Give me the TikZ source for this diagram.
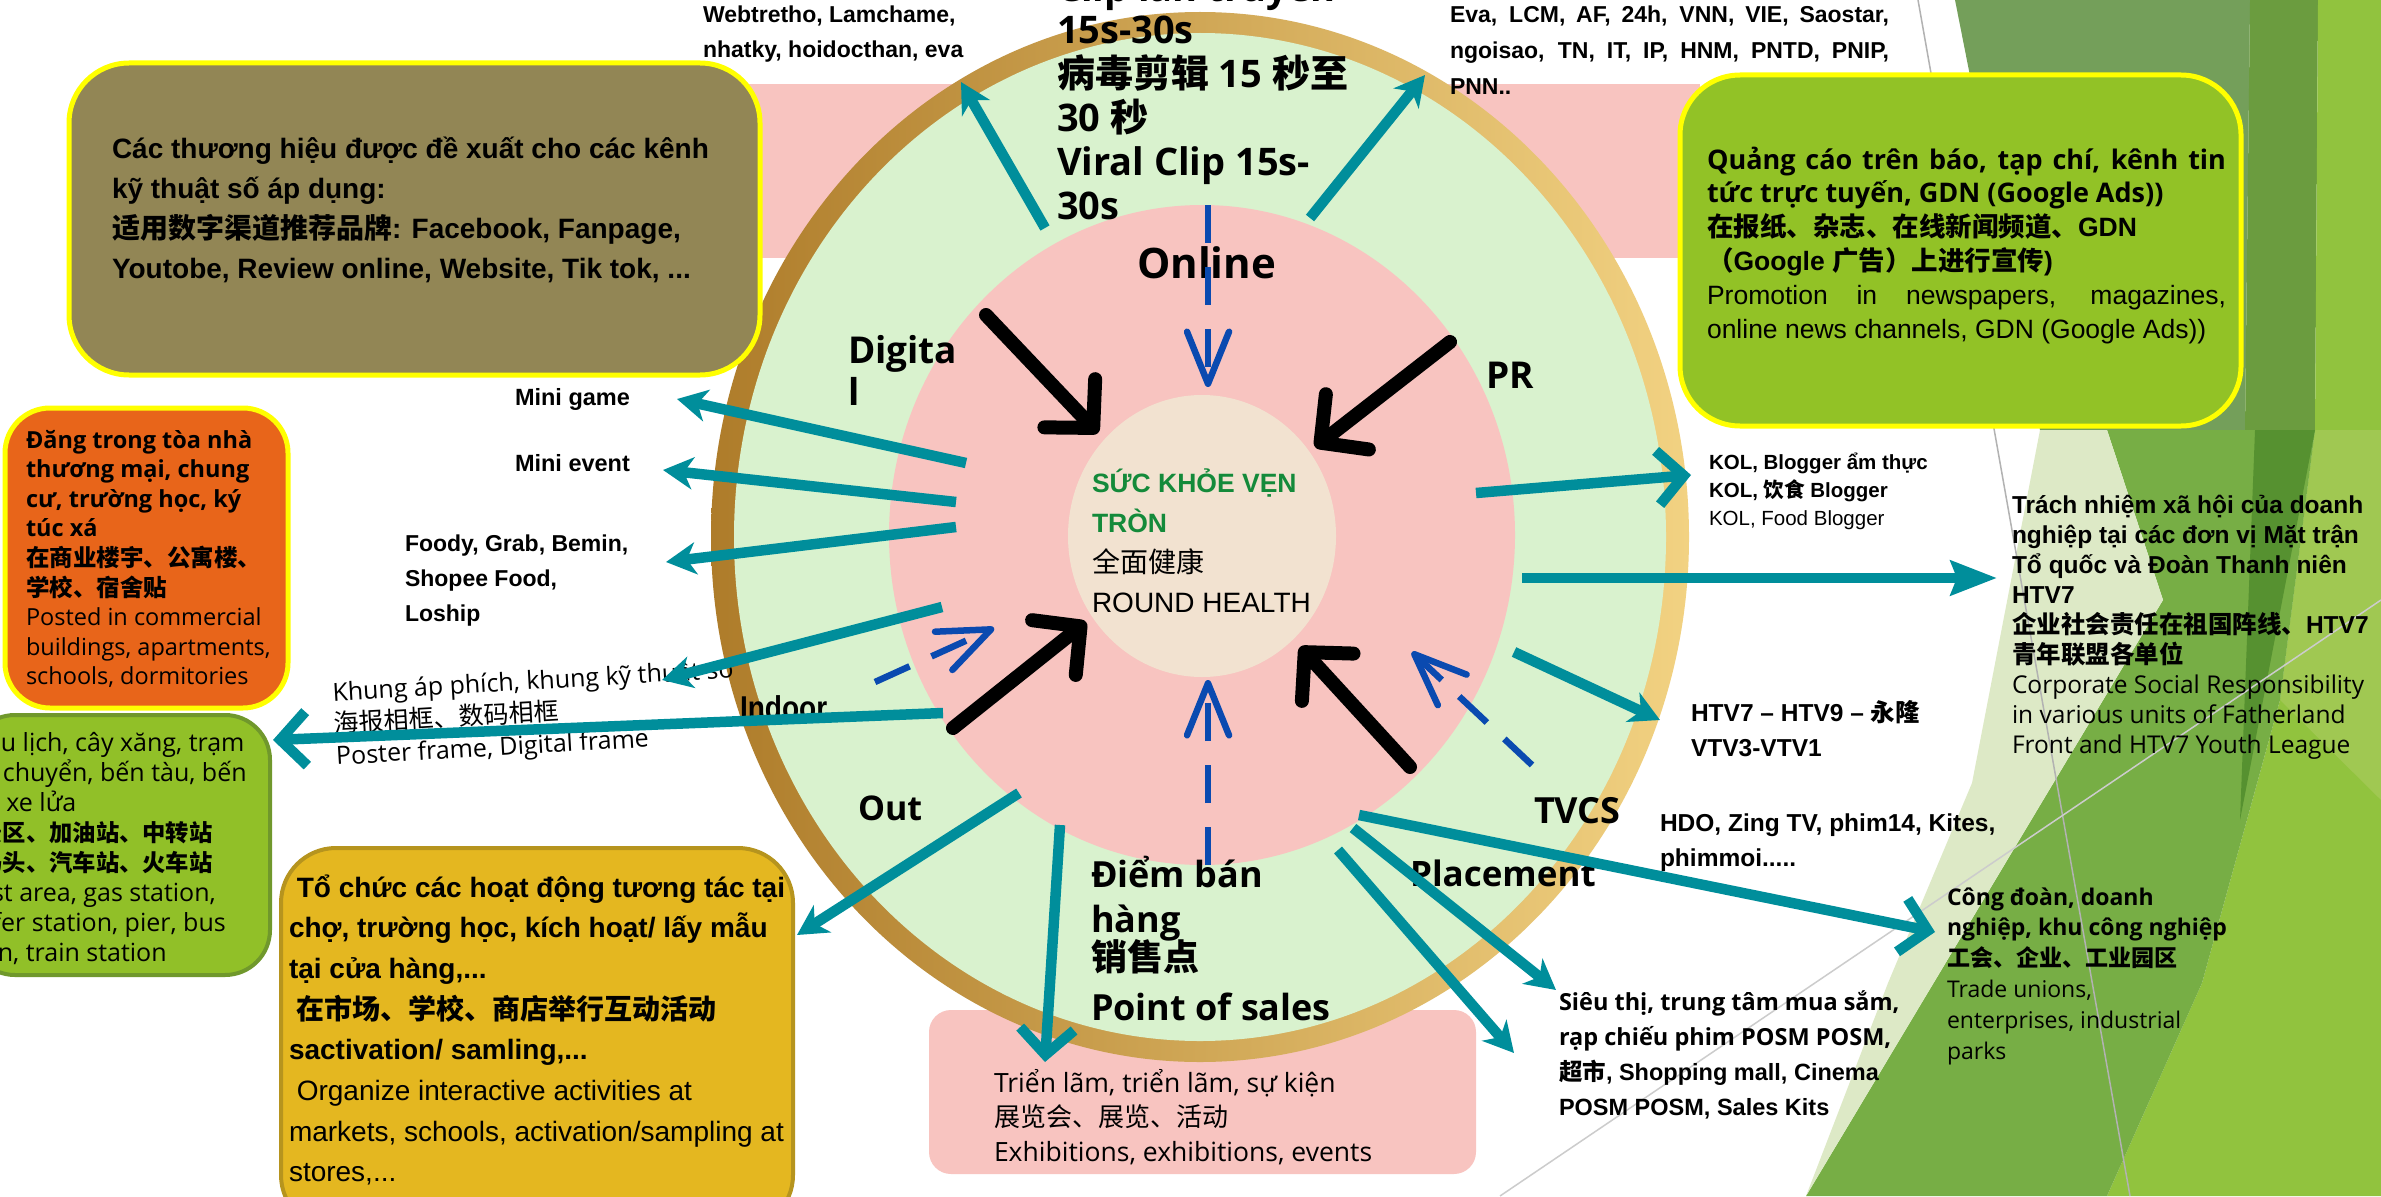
\documentclass[tikz,border=0pt]{standalone}
\usepackage{fontspec}
\setmainfont{Liberation Sans}
\newfontfamily\tah{Open Sans}
\newfontfamily\cjk{Noto Sans CJK SC}
\usetikzlibrary{arrows.meta,shapes.geometric}
\newcommand\fsz[1]{\fontsize{#1}{#1}\selectfont}
\newcommand\mlines[2]{\vtop{\baselineskip=#1pt\lineskiplimit=-1000pt\lineskip=0pt\relax #2}}
\definecolor{tealc}{RGB}{0,142,155}
\definecolor{bluec}{RGB}{10,74,176}
\definecolor{pinkc}{RGB}{248,196,192}
\definecolor{greenin}{RGB}{217,242,206}
\definecolor{beige}{RGB}{242,226,208}
\definecolor{ringA}{RGB}{174,124,42}
\definecolor{ringB}{RGB}{218,168,86}
\definecolor{ringC}{RGB}{242,210,130}
\definecolor{olivec}{RGB}{146,134,85}
\definecolor{limec}{RGB}{146,194,38}
\definecolor{orangec}{RGB}{232,101,26}
\definecolor{leftg}{RGB}{145,192,40}
\definecolor{leftgb}{RGB}{112,152,44}
\definecolor{goldbox}{RGB}{228,183,32}
\definecolor{goldboxb}{RGB}{182,148,30}
\definecolor{darkgreen}{RGB}{20,138,58}
\definecolor{yel}{RGB}{255,255,0}
\definecolor{bgA}{RGB}{116,159,90}
\definecolor{bgB}{RGB}{107,156,63}
\definecolor{bgC}{RGB}{145,195,62}
\definecolor{bgD}{RGB}{119,174,69}
\definecolor{bgE}{RGB}{221,233,198}
\definecolor{bgF}{RGB}{86,145,48}
\definecolor{bgG}{RGB}{160,200,82}
\begin{document}
\begin{tikzpicture}[x=1pt,y=-1pt,
  lbl/.style={anchor=base west,inner sep=0pt,outer sep=0pt},
  shp/.style={inner sep=0pt,outer sep=0pt},
  tline/.style={draw=tealc,line width=10.5pt},
  tfill/.style={tline,-{Stealth[length=30pt,width=32pt,inset=9pt]}},
  tbig/.style={tline,-{Stealth[length=46pt,width=34pt,inset=6pt]}},
  topen/.style={tline,-{Straight Barb[length=26pt,width=54pt]}},
  blk/.style={draw=black,line width=14pt,line cap=round,-{Straight Barb[length=34pt,width=70pt,round]}},
  bdash/.style={draw=bluec,line width=6.5pt,dash pattern=on 38pt off 24pt,-{Straight Barb[length=52pt,width=42pt,round]}}
]
\useasboundingbox (0,0) rectangle (2381,1196);
\fill[white] (0,0) rectangle (2381,1196);
% right background facets
\fill[bgA] (1955,0) -- (2250,0) -- (2245,430) -- (2040,430) -- cycle;
\fill[bgB] (2250,0) -- (2318,0) -- (2315,430) -- (2245,430) -- cycle;
\fill[bgC] (2318,0) -- (2381,0) -- (2381,1196) -- (2107,1196) -- (2202,983) -- (2280,700) -- (2315,430) -- cycle;
\fill[bgG] (2315,430) -- (2381,430) -- (2381,800) -- (2280,700) -- cycle;
\fill[bgD] (2107,430) -- (2315,430) -- (2280,700) -- (2202,983) -- (2107,1196) -- (1806,1196) -- (2163,600) -- cycle;
\fill[bgE] (2040,430) -- (2107,430) -- (2163,600) -- (1806,1196) -- (1888,983) -- (1972,783) -- cycle;
\fill[bgF] (2255,430) -- (2315,430) -- (2240,820) -- cycle;
\draw[black!30,line width=1.5pt] (1918,0) -- (2130,1196);
\draw[black!20,line width=1.5pt] (1500,1196) -- (2381,600);

% pink band and point-of-sale box
\node[shp,rectangle,fill=pinkc,minimum width=960pt,minimum height=174pt] (band) at (1220,171) {};
\node[shp,rectangle,fill=pinkc,rounded corners=22pt,minimum width=547pt,minimum height=164pt] (posbox) at (1202.5,1092) {};

% concentric ellipses
\node[ellipse,shp,minimum width=978pt,minimum height=1050pt,left color=ringA,middle color=ringB,right color=ringC] (ring) at (1200,537) {};
\node[ellipse,shp,fill=greenin,minimum width=932pt,minimum height=1008pt] (greenell) at (1200,537) {};
\node[ellipse,shp,fill=pinkc,minimum width=626pt,minimum height=660pt] (pinkell) at (1202,535) {};
\node[ellipse,shp,fill=beige,minimum width=268pt,minimum height=282pt] (core) at (1202,536) {};

% boxes
\node[shp,rectangle,fill=olivec,draw=yel,line width=5pt,rounded corners=60pt,minimum width=691pt,minimum height=312pt] (olivebox) at (414.5,219) {};
\node[shp,rectangle,fill=limec,draw=yel,line width=5pt,rounded corners=60pt,minimum width=561pt,minimum height=351pt] (limebox) at (1960.5,250.5) {};
\node[shp,rectangle,fill=orangec,draw=yel,line width=5pt,rounded corners=45pt,minimum width=283pt,minimum height=300pt] (orangebox) at (146.5,558) {};
\node[shp,rectangle,fill=leftg,draw=leftgb,line width=4pt,rounded corners=45pt,minimum width=300pt,minimum height=260pt] (leftbox) at (120,845) {};
\node[shp,rectangle,fill=goldbox,draw=goldboxb,line width=4pt,rounded corners=55pt,minimum width=512pt,minimum height=382pt] (goldbox) at (537,1039) {};

% texts
\node[lbl,font=\fsz{23}\bfseries] (webt) at (703,23) {\mlines{35}{\hbox{Webtretho, Lamchame,}\hbox{nhatky, hoidocthan, eva}}};
\node[lbl,font=\tah\fsz{38}\bfseries] (cliptop) at (1057,2) {Clip lan truyền};
\node[lbl,font=\tah\fsz{38}\bfseries] (clip) at (1057,44) {\mlines{44}{\hbox{15s-30s}\hbox{{\cjk 病毒剪辑} 15 {\cjk 秒至}}\hbox{30 {\cjk 秒}}\hbox{Viral Clip 15s-}\hbox{30s}}};
\node[lbl,font=\fsz{23}\bfseries] (eva) at (1450,23) {\mlines{36}{\hbox to 439pt{Eva, LCM, AF, 24h, VNN, VIE, Saostar,}\hbox to 439pt{ngoisao, TN, IT, IP, HNM, PNTD, PNIP,}\hbox{PNN..}}};
\node[lbl,font=\fsz{28}\bfseries] (olivetxt) at (112,158) {\mlines{40}{\hbox{Các thương hiệu được đề xuất cho các kênh}\hbox{kỹ thuật số áp dụng:}\hbox{{\cjk 适用数字渠道推荐品牌}: Facebook, Fanpage,}\hbox{Youtobe, Review online, Website, Tik tok, ...}}};
\node[lbl,font=\fsz{26.5}] (limetxt) at (1707,169) {\mlines{33.8}{%
\hbox to 519pt{\tah\bfseries\fsz{27}Quảng cáo trên báo, tạp chí, kênh tin}%
\hbox{\tah\bfseries\fsz{27}tức trực tuyến, GDN (Google Ads))}%
\hbox{\bfseries\cjk 在报纸、杂志、在线新闻频道、\rmfamily GDN}%
\hbox{\bfseries\cjk （\rmfamily Google \cjk 广告）上进行宣传\rmfamily )}%
\hbox to 519pt{Promotion in newspapers, magazines,}%
\hbox{online news channels, GDN (Google Ads))}}};
\node[lbl,font=\fsz{23.5}\bfseries] (minigame) at (515,405) {Mini game};
\node[lbl,font=\fsz{23.5}\bfseries] (minievent) at (515,471) {Mini event};
\node[lbl,font=\fsz{23}\bfseries] (foody) at (405,551) {\mlines{35}{\hbox{Foody, Grab, Bemin,}\hbox{Shopee Food,}\hbox{Loship}}};
\node[lbl,font=\fsz{23.5}] (orangetxt) at (26,448) {\mlines{29.6}{\hbox{\tah\bfseries Đăng trong tòa nhà}\hbox{\tah\bfseries thương mại, chung}\hbox{\tah\bfseries cư, trường học, ký}\hbox{\tah\bfseries túc xá}\hbox{\cjk\bfseries 在商业楼宇、公寓楼、}\hbox{\cjk\bfseries 学校、宿舍贴}\hbox{\tah Posted in commercial}\hbox{\tah buildings, apartments,}\hbox{\tah schools, dormitories}}};
\node[lbl,font=\tah\fsz{25}] (lefttxt) at (-67,751) {\mlines{30}{\hbox{Khu du lịch, cây xăng, trạm}\hbox{trung chuyển, bến tàu, bến}\hbox{xe, ga xe lửa}\hbox{\cjk\bfseries\fsz{23.3}旅游景区、加油站、中转站}\hbox{\cjk\bfseries\fsz{23.3}港口码头、汽车站、火车站}\hbox{Tourist area, gas station,}\hbox{transfer station, pier, bus}\hbox{station, train station}}};
\node[lbl,font=\tah\fsz{25},rotate=3.3] (khung) at (333,701) {\mlines{32}{\hbox{Khung áp phích, khung kỹ thuật số}\hbox{\cjk\fsz{25}海报相框、数码相框}\hbox{Poster frame, Digital frame}}};
\node[lbl,font=\fsz{33}\bfseries] (indoor) at (740,719) {\scalebox{0.85}[1]{Indoor}};
\node[lbl,font=\tah\fsz{37}\bfseries] (digital) at (848,363) {\mlines{42}{\hbox{Digita}\hbox{l}}};
\node[lbl,font=\tah\fsz{42}\bfseries] (online) at (1137,278) {Online};
\node[lbl,font=\tah\fsz{37}\bfseries] (pr) at (1486,388) {PR};
\node[lbl,font=\fsz{26.5}] (centertxt) at (1092,492) {\mlines{40.3}{\hbox{\color{darkgreen}\bfseries SỨC KHỎE VẸN}\hbox{\color{darkgreen}\bfseries TRÒN}\hbox{\cjk\fsz{28}全面健康}\hbox{\fsz{28}ROUND HEALTH}}};
\node[lbl,font=\tah\fsz{34}\bfseries] (out) at (858,820) {Out};
\node[lbl,font=\tah\fsz{36}\bfseries] (tvcs) at (1534,823) {TVCS};
\node[lbl,font=\tah\fsz{35}\bfseries] (placement) at (1410,886) {Placement};
\node[lbl,font=\tah\fsz{36}\bfseries] (pos) at (1091,887) {\mlines{45}{\hbox{Điểm bán}\hbox{hàng}\vskip-7pt\hbox{\cjk 销售点}\vskip5pt\hbox{Point of sales}}};
\node[lbl,font=\tah\fsz{26.5}] (postxt) at (994,1092) {\mlines{34.5}{\hbox{Triển lãm, triển lãm, sự kiện}\hbox{\cjk\fsz{26}展览会、展览、活动}\hbox{Exhibitions, exhibitions, events}}};
\node[lbl,font=\fsz{20.5}] (kol) at (1709,469) {\mlines{28}{\hbox{\bfseries KOL, Blogger ẩm thực}\hbox{\bfseries KOL, {\cjk 饮食} Blogger}\hbox{KOL, Food Blogger}}};
\node[lbl,font=\fsz{24.5}] (csr) at (2012,513) {\mlines{30}{\hbox{\bfseries Trách nhiệm xã hội của doanh}\hbox{\bfseries nghiệp tại các đơn vị Mặt trận}\hbox{\bfseries Tổ quốc và Đoàn Thanh niên}\hbox{\bfseries HTV7}\hbox{\bfseries\cjk 企业社会责任在祖国阵线、\rmfamily HTV7}\hbox{\bfseries\cjk 青年联盟各单位}\hbox{\tah Corporate Social Responsibility}\hbox{\tah in various units of Fatherland}\hbox{\tah Front and HTV7 Youth League}}};
\node[lbl,font=\fsz{24.5}\bfseries] (htv) at (1691,721) {\mlines{35}{\hbox{HTV7 – HTV9 – {\cjk 永隆}}\hbox{VTV3-VTV1}}};
\node[lbl,font=\fsz{24.5}\bfseries] (hdo) at (1660,831) {\mlines{35}{\hbox{HDO, Zing TV, phim14, Kites,}\hbox{phimmoi.....}}};
\node[lbl,font=\fsz{23}] (union) at (1947,905) {\mlines{30.8}{\hbox{\tah\bfseries Công đoàn, doanh}\hbox{\tah\bfseries nghiệp, khu công nghiệp}\hbox{\cjk\bfseries 工会、企业、工业园区}\hbox{\tah Trade unions,}\hbox{\tah enterprises, industrial}\hbox{\tah parks}}};
\node[lbl,font=\fsz{23.5}\bfseries] (mall) at (1559,1010) {\mlines{35.3}{\hbox{\tah Siêu thị, trung tâm mua sắm,}\hbox{\tah rạp chiếu phim POSM POSM,}\hbox{{\cjk 超市}, Shopping mall, Cinema}\hbox{POSM POSM, Sales Kits}}};
\node[lbl,font=\fsz{28}] (goldtxt) at (289,897) {\mlines{40.7}{\hbox{\bfseries\ Tổ chức các hoạt động tương tác tại}\hbox{\bfseries chợ, trường học, kích hoạt/ lấy mẫu}\hbox{\bfseries tại cửa hàng,...}\hbox{\bfseries\ \cjk 在市场、学校、商店举行互动活动}\hbox{\bfseries sactivation/ samling,...}\hbox{\ Organize interactive activities at}\hbox{markets, schools, activation/sampling at}\hbox{stores,...}}};

% connector end points
\coordinate (a1s) at (1045,228); \coordinate (a1e) at (961,82);
\coordinate (a2s) at (1310,218); \coordinate (a2e) at (1425,75);
\coordinate (a3s) at (966,463);  \coordinate (a3e) at (677,399);
\coordinate (a4s) at (956,502);  \coordinate (a4e) at (663,470);
\coordinate (a5s) at (956,527);  \coordinate (a5e) at (666,562);
\coordinate (a6s) at (942,607);  \coordinate (a6e) at (662,680);
\coordinate (a7s) at (943,713);  \coordinate (a7e) at (273,740);
\coordinate (a8s) at (1019,793); \coordinate (a8e) at (797,935);
\coordinate (a9s) at (1060,825); \coordinate (a9e) at (1045,1062);
\coordinate (a10s) at (1353,828); \coordinate (a10e) at (1556,990);
\coordinate (a11s) at (1338,850); \coordinate (a11e) at (1514,1053);
\coordinate (a12s) at (1359,815); \coordinate (a12e) at (1935,932);
\coordinate (a13s) at (1476,493); \coordinate (a13e) at (1691,475);
\coordinate (a14s) at (1522,578); \coordinate (a14e) at (1997,578);
\coordinate (a15s) at (1514,652); \coordinate (a15e) at (1660,720);
\coordinate (b1s) at (986,315);  \coordinate (b1e) at (1098,433);
\coordinate (b2s) at (1450,342); \coordinate (b2e) at (1315,447);
\coordinate (b3s) at (953,728);  \coordinate (b3e) at (1086,622);
\coordinate (b4s) at (1410,767); \coordinate (b4e) at (1300,647);
\coordinate (c1s) at (1208,205); \coordinate (c1e) at (1208,387);
\coordinate (c2s) at (1208,865); \coordinate (c2e) at (1208,680);
\coordinate (c3s) at (875,682);  \coordinate (c3e) at (994,628);
\coordinate (c4s) at (1532,765); \coordinate (c4e) at (1412,652);

% teal connectors
\draw[tfill] (a1s) -- (a1e);
\draw[tfill] (a2s) -- (a2e);
\draw[tfill] (a3s) -- (a3e);
\draw[tfill] (a4s) -- (a4e);
\draw[tfill] (a5s) -- (a5e);
\draw[tfill] (a6s) -- (a6e);
\draw[topen] (a7s) -- (a7e);
\draw[tfill] (a8s) -- (a8e);
\draw[topen] (a9s) -- (a9e);
\draw[tfill] (a10s) -- (a10e);
\draw[tfill] (a11s) -- (a11e);
\draw[topen] (a12s) -- (a12e);
\draw[topen] (a13s) -- (a13e);
\draw[tbig] (a14s) -- (a14e);
\draw[tfill] (a15s) -- (a15e);
% black arrows into the core
\draw[blk] (b1s) -- (b1e);
\draw[blk] (b2s) -- (b2e);
\draw[blk] (b3s) -- (b3e);
\draw[blk] (b4s) -- (b4e);
% blue dashed arrows
\draw[bdash] (c1s) -- (c1e);
\draw[bdash] (c2s) -- (c2e);
\draw[bdash] (c3s) -- (c3e);
\draw[bdash] (c4s) -- (c4e);
\end{tikzpicture}
\end{document}
